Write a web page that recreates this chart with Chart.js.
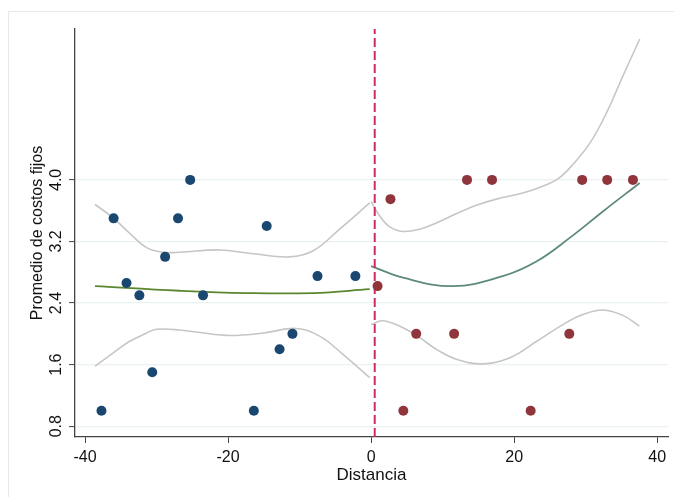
<!DOCTYPE html>
<html>
<head>
<meta charset="utf-8">
<script src="https://cdn.jsdelivr.net/npm/chart.js@4/dist/chart.umd.min.js"></script>
<style>
  html, body { margin: 0; padding: 0; background: #fff; }
  #wrap { position: relative; width: 674px; height: 497px; overflow: hidden; }
  #frame { position: absolute; left: 8px; top: 11px; width: 700px; height: 520px;
           border-left: 1px solid #e3ebed; border-top: 1px solid #e3ebed; pointer-events: none; }
  canvas { position: absolute; left: 0; top: 0; }
</style>
</head>
<body>
<div id="wrap"><div id="frame"></div><canvas id="c" width="674" height="497"></canvas></div>
<script>
// ---- data ----
const xTicks = [-40, -20, 0, 20, 40];
const yTicks = [0.8, 1.6, 2.4, 3.2, 4.0];
const cutoff = 0.5;

const leftX = [-37.7, -36.0, -34.2, -32.4, -30.6, -28.8, -27.0, -25.3, -23.5, -16.4, -14.6, -12.8, -11.0, -7.5, -2.2];
const leftY = [1.0, 3.5, 2.66, 2.5, 1.5, 3.0, 3.5, 4.0, 2.5, 1.0, 3.4, 1.8, 2.0, 2.75, 2.75];

const rightX = [0.9, 2.7, 4.5, 6.3, 11.6, 13.4, 16.9, 22.3, 27.7, 29.5, 33.0, 36.6];
const rightY = [2.62, 3.75, 1.0, 2.0, 2.0, 4.0, 4.0, 1.0, 2.0, 4.0, 4.0, 4.0];

const leftFitX = [-38.6, -26.8, -17.5, -8.1, -0.2];
const leftFitY = [2.62, 2.56, 2.53, 2.53, 2.58];

const leftUpX = [-38.6, -36.1, -33.8, -31.4, -29.1, -26.8, -21.2, -16.5, -11.4, -8.1, -4.4, -0.2];
const leftUpY = [3.68, 3.51, 3.31, 3.12, 3.06, 3.06, 3.09, 3.04, 3.00, 3.08, 3.36, 3.70];

const leftLoX = [-38.6, -36.1, -33.8, -31.4, -30.0, -26.8, -20.2, -15.1, -10.5, -7.2, -3.9, -0.2];
const leftLoY = [1.58, 1.75, 1.90, 2.01, 2.06, 2.05, 1.98, 2.01, 2.07, 1.97, 1.73, 1.43];

const rightFitX = [0.0, 4.45, 11.4, 18.4, 23.1, 27.8, 32.4, 37.55];
const rightFitY = [2.88, 2.73, 2.62, 2.75, 2.94, 3.25, 3.59, 3.96];

const rightUpX = [0.0, 1.2, 2.6, 4.45, 6.8, 9.1, 11.9, 14.7, 17.5, 20.8, 23.8, 26.2, 28.2, 30.6, 32.9, 35.2, 37.55];
const rightUpY = [3.72, 3.53, 3.39, 3.33, 3.36, 3.44, 3.56, 3.67, 3.75, 3.82, 3.91, 4.02, 4.20, 4.48, 4.87, 5.35, 5.83];

const rightLoX = [0.0, 1.65, 4.45, 6.8, 9.1, 11.9, 15.6, 19.4, 23.1, 26.8, 29.6, 32.4, 35.2, 37.5];
const rightLoY = [2.12, 2.17, 2.08, 1.95, 1.80, 1.67, 1.61, 1.69, 1.90, 2.12, 2.25, 2.31, 2.24, 2.10];

const xRange = [-41.4, 41.5];
const yRange = [0.66, 5.96];

// ---- helpers ----
const pts = (xs, ys) => xs.map((x, i) => ({ x: x, y: ys[i] }));
const FONT = "'Liberation Sans', Arial, sans-serif";

function curve(xs, ys, color, width, order) {
  return { type: 'line', data: pts(xs, ys), borderColor: color, borderWidth: width,
           pointRadius: 0, fill: false, tension: 0.4, order: order };
}

const datasets = [
  { type: 'scatter', data: pts(leftX, leftY), backgroundColor: '#1a476f', borderColor: '#1a476f',
    borderWidth: 0, pointRadius: 5, order: 0 },
  { type: 'scatter', data: pts(rightX, rightY), backgroundColor: '#90353b', borderColor: '#90353b',
    borderWidth: 0, pointRadius: 5, order: 0 },
  { type: 'line', data: [{ x: cutoff, y: yRange[0] }, { x: cutoff, y: yRange[1] }],
    borderColor: '#cf2d5c', borderWidth: 2, borderDash: [9, 4], pointRadius: 0, order: 1 },
  curve(leftFitX, leftFitY, '#5a862f', 1.8, 2),
  curve(rightFitX, rightFitY, '#5e8a7a', 1.8, 2),
  curve(leftUpX, leftUpY, '#c6c6c6', 1.6, 3),
  curve(leftLoX, leftLoY, '#c6c6c6', 1.6, 3),
  curve(rightUpX, rightUpY, '#c6c6c6', 1.6, 3),
  curve(rightLoX, rightLoY, '#c6c6c6', 1.6, 3)
];

new Chart(document.getElementById('c'), {
  type: 'scatter',
  data: { datasets: datasets },
  options: {
    responsive: false,
    animation: false,
    layout: { padding: { top: 29, right: 6, left: 0, bottom: 0 } },
    plugins: { legend: { display: false }, tooltip: { enabled: false } },
    scales: {
      x: {
        type: 'linear', min: xRange[0], max: xRange[1],
        afterBuildTicks: s => { s.ticks = xTicks.map(v => ({ value: v })); },
        afterFit: s => { s.height = 60; },
        grid: { drawOnChartArea: false, drawTicks: true, tickLength: 6, tickColor: '#444', tickWidth: 1 },
        border: { display: true, color: '#444', width: 1.3 },
        ticks: { color: '#111', font: { family: FONT, size: 16 }, padding: 5, maxRotation: 0,
                 callback: v => String(v) },
        title: { display: true, text: 'Distancia', color: '#111', font: { family: FONT, size: 17 },
                 padding: { top: 0, bottom: 11 } }
      },
      y: {
        type: 'linear', min: yRange[0], max: yRange[1],
        afterBuildTicks: s => { s.ticks = yTicks.map(v => ({ value: v })); },
        afterFit: s => { s.width = 75; },
        grid: { drawOnChartArea: true, color: '#eaf1f3', lineWidth: 1.2, drawTicks: true, tickLength: 6,
                tickColor: '#444', tickWidth: 1 },
        border: { display: true, color: '#444', width: 1.3 },
        ticks: { color: '#111', font: { family: FONT, size: 16 }, padding: 1, minRotation: 90, maxRotation: 90,
                 crossAlign: 'center', callback: v => Number(v).toFixed(1) },
        title: { display: true, text: 'Promedio de costos fijos', color: '#111', font: { family: FONT, size: 16 },
                 padding: { top: 28, bottom: 0 } }
      }
    }
  }
});
</script>
</body>
</html>
